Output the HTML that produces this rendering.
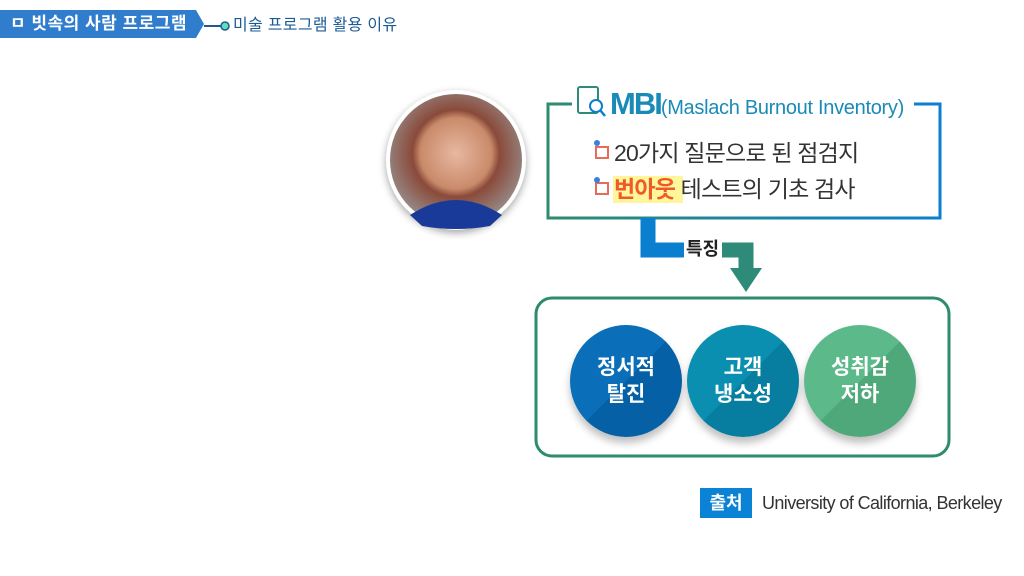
<!DOCTYPE html>
<html><head><meta charset="utf-8"><style>
body{margin:0;width:1024px;height:576px;background:#fff;position:relative;overflow:hidden;font-family:"Liberation Sans","Noto Sans CJK KR",sans-serif}
.a{position:absolute;white-space:nowrap}
.c{position:absolute;width:112px;height:112px;border-radius:50%;color:#fff;font-weight:bold;font-size:21px;line-height:27px;display:flex;align-items:center;justify-content:center;text-align:center;box-shadow:0 6px 8px rgba(0,0,0,.25);overflow:hidden}
</style></head><body>
<svg class="a" style="left:0;top:0" width="1024" height="576">
<polygon points="0,10 196,10 204,24 196,38 0,38" fill="#2f7dcc"/>
<line x1="204" y1="26" x2="222" y2="26" stroke="#1c5a96" stroke-width="2"/>
<circle cx="225" cy="26" r="4" fill="#5ee0b8" stroke="#1c5a96" stroke-width="1.5"/>
<defs><linearGradient id="g" x1="0" x2="1"><stop offset="0" stop-color="#2e8b6e"/><stop offset="1" stop-color="#0a7fd0"/></linearGradient>
<radialGradient id="ph" cx="0.5" cy="0.45" r="0.6"><stop offset="0" stop-color="#e8b8a0"/><stop offset="0.45" stop-color="#c98a6a"/><stop offset="0.55" stop-color="#8a4a3a"/><stop offset="1" stop-color="#9a9a9a"/></radialGradient></defs>
<circle cx="456" cy="160" r="70" fill="#fff" style="filter:drop-shadow(0 3px 4px rgba(0,0,0,.35))"/>
<circle cx="456" cy="160" r="66" fill="url(#ph)"/>
<path d="M410 215 Q456 185 502 215 L490 226 Q456 232 422 226Z" fill="#1a3a9a"/>
<path d="M572 104 L548 104 L548 218 L940 218 L940 104 L914 104" fill="none" stroke="url(#g)" stroke-width="3"/>
<path d="M648 218 L648 250 L684 250" fill="none" stroke="#0a7fd0" stroke-width="15"/>
<path d="M722 250 L746 250 L746 268" fill="none" stroke="#2e8b7a" stroke-width="15"/>
<polygon points="730,268 762,268 746,292" fill="#2e8b7a"/>
<rect x="536" y="298" width="413" height="158" rx="16" fill="none" stroke="#2e8b6e" stroke-width="3"/>
<g fill="none" stroke="#2e8b7a" stroke-width="2"><rect x="578" y="87" width="20" height="26" rx="2"/></g>
<circle cx="596" cy="106" r="6" fill="#fff" stroke="#0a7fd0" stroke-width="2"/>
<line x1="600" y1="110" x2="605" y2="116" stroke="#0a7fd0" stroke-width="2.5"/>
<rect x="596" y="147" width="12" height="11" fill="none" stroke="#e86a5a" stroke-width="2"/><circle cx="597" cy="143" r="3" fill="#3a80e0"/>
<rect x="596" y="183" width="12" height="11" fill="none" stroke="#e86a5a" stroke-width="2"/><circle cx="597" cy="180" r="3" fill="#3a80e0"/>
<rect x="613" y="176" width="70" height="27" fill="#fff59a"/>
</svg>
<div class="a" style="left:10px;top:11px;color:#fff;font-weight:bold;font-size:17px;line-height:26px;letter-spacing:0.5px">ㅁ 빗속의 사람 프로그램</div>
<div class="a" style="left:233px;top:14px;color:#1c5a96;font-size:16px;line-height:24px;letter-spacing:0.3px">미술 프로그램 활용 이유</div>
<div class="a" style="left:610px;top:86px;color:#1a8ab8;font-size:31px;font-weight:bold;letter-spacing:-2px;line-height:36px">MBI<span style="font-size:20px;font-weight:normal;letter-spacing:-0.3px">(Maslach Burnout Inventory)</span></div>
<div class="a" style="left:614px;top:138px;color:#333;font-size:23px;line-height:30px;letter-spacing:-0.8px">20가지 질문으로 된 점검지</div>
<div class="a" style="left:614px;top:174px;color:#333;font-size:23px;line-height:30px;letter-spacing:-0.8px"><span style="color:#f05a28;font-weight:bold">번아웃</span> 테스트의 기초 검사</div>
<div class="a" style="left:686px;top:236px;color:#222;font-size:18px;font-weight:bold;line-height:26px">특징</div>
<div class="c" style="left:570px;top:325px;background:linear-gradient(135deg,#0a6fb8 50%,#0660a5 50%)">정서적<br>탈진</div>
<div class="c" style="left:687px;top:325px;background:linear-gradient(135deg,#0a8fb0 50%,#077ea0 50%)">고객<br>냉소성</div>
<div class="c" style="left:804px;top:325px;background:linear-gradient(135deg,#5cba8a 50%,#4fa87a 50%)">성취감<br>저하</div>
<div class="a" style="left:700px;top:488px;width:52px;height:30px;background:#0a82d6;color:#fff;font-weight:bold;font-size:18px;line-height:30px;text-align:center">출처</div>
<div class="a" style="left:762px;top:490px;color:#333;font-size:18px;line-height:26px;letter-spacing:-0.6px">University of California, Berkeley</div>
</body></html>
